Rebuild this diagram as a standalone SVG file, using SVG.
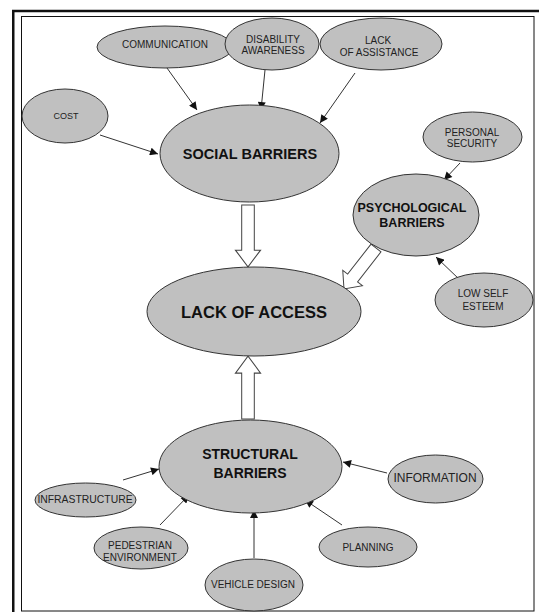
<svg xmlns="http://www.w3.org/2000/svg" width="539" height="612" viewBox="0 0 539 612">
  <style>
    .node ellipse { fill: #c0c0c0; stroke: #333; stroke-width: 1; }
    .t { font-family: "Liberation Sans", Arial, sans-serif; font-size: 10px; fill: #222; text-anchor: middle; dominant-baseline: central; }
    .b { font-weight: bold; fill: #111; }
    .conn line { stroke: #333; stroke-width: 1; marker-end: url(#ah); }
    .big { fill: #fff; stroke: #444; stroke-width: 1; stroke-linejoin: miter; }
  </style>
  <defs>
    <marker id="ah" viewBox="0 0 10 10" refX="10" refY="5" markerWidth="9" markerHeight="8" markerUnits="userSpaceOnUse" orient="auto">
      <path d="M0,0 L10,5 L0,10 z" fill="#111"/>
    </marker>
    <path id="bigarrow" d="M-6.3,0 L-6.3,38 L-12.5,38 L0,52 L12.5,38 L6.3,38 L6.3,0 z"/>
  </defs>
  <rect width="539" height="612" fill="#fff"/>
  <!-- frame -->
  <path d="M13.25,612 L13.25,11 L539,11" fill="none" stroke="#111" stroke-width="2.5"/>
  <rect x="21.5" y="16.5" width="512.5" height="594.5" fill="none" stroke="#111" stroke-width="1"/>

  <g id="connectors" class="conn">
    <line x1="100" y1="135" x2="158" y2="154"/>
    <line x1="167" y1="68" x2="197" y2="110"/>
    <line x1="265" y1="70" x2="261" y2="110"/>
    <line x1="355" y1="73" x2="320" y2="123"/>
    <line x1="460" y1="163" x2="444" y2="180"/>
    <line x1="460" y1="280" x2="436" y2="257"/>
    <line x1="123" y1="480" x2="159" y2="469"/>
    <line x1="160" y1="525" x2="189" y2="495"/>
    <line x1="254" y1="558" x2="254" y2="510"/>
    <line x1="342" y1="525" x2="305" y2="500"/>
    <line x1="387" y1="473" x2="343" y2="462"/>
    <use href="#bigarrow" class="big" transform="translate(248,205) rotate(0) scale(1,1.19)"/>
    <use href="#bigarrow" class="big" transform="translate(376,248) rotate(38)"/>
    <use href="#bigarrow" class="big" transform="translate(248,419) rotate(180) scale(1,1.21)"/>
  </g>

  <g id="communication" class="node">
    <ellipse cx="165" cy="47" rx="68" ry="21"/>
    <text class="t" x="165" y="44">COMMUNICATION</text>
  </g>
  <g id="disability-awareness" class="node">
    <ellipse cx="272" cy="44" rx="47" ry="26"/>
    <text class="t" x="273" y="39">DISABILITY</text>
    <text class="t" x="273" y="50">AWARENESS</text>
  </g>
  <g id="lack-of-assistance" class="node">
    <ellipse cx="381" cy="44" rx="61" ry="26"/>
    <text class="t" x="378" y="40">LACK</text>
    <text class="t" x="379" y="52">OF ASSISTANCE</text>
  </g>
  <g id="cost" class="node">
    <ellipse cx="65" cy="116" rx="43" ry="27"/>
    <text class="t" x="66" y="116" style="font-size:9px">COST</text>
  </g>
  <g id="social-barriers" class="node">
    <ellipse cx="249.5" cy="153.5" rx="89.5" ry="48.5"/>
    <text class="t b" x="250" y="154" style="font-size:14.5px">SOCIAL BARRIERS</text>
  </g>
  <g id="personal-security" class="node">
    <ellipse cx="472.5" cy="137" rx="49.5" ry="25"/>
    <text class="t" x="472" y="132">PERSONAL</text>
    <text class="t" x="472" y="143">SECURITY</text>
  </g>
  <g id="psychological-barriers" class="node">
    <ellipse cx="416" cy="215" rx="63" ry="41"/>
    <text class="t b" x="412" y="208" style="font-size:12.5px">PSYCHOLOGICAL</text>
    <text class="t b" x="412" y="223" style="font-size:12.5px">BARRIERS</text>
  </g>
  <g id="low-self-esteem" class="node">
    <ellipse cx="484" cy="300" rx="49" ry="27"/>
    <text class="t" x="483" y="293">LOW SELF</text>
    <text class="t" x="483" y="306">ESTEEM</text>
  </g>
  <g id="lack-of-access" class="node">
    <ellipse cx="254" cy="311.5" rx="107" ry="44.5"/>
    <text class="t b" x="254" y="312" style="font-size:16.5px">LACK OF ACCESS</text>
  </g>
  <g id="structural-barriers" class="node">
    <ellipse cx="250.5" cy="466.5" rx="91.5" ry="46.5"/>
    <text class="t b" x="250" y="454" style="font-size:14px">STRUCTURAL</text>
    <text class="t b" x="250" y="473" style="font-size:14px">BARRIERS</text>
  </g>
  <g id="infrastructure" class="node">
    <ellipse cx="85.5" cy="500" rx="50.5" ry="17"/>
    <text class="t" x="85" y="499" style="font-size:10.4px">INFRASTRUCTURE</text>
  </g>
  <g id="pedestrian-environment" class="node">
    <ellipse cx="141" cy="548" rx="47" ry="21"/>
    <text class="t" x="140" y="545">PEDESTRIAN</text>
    <text class="t" x="140" y="557">ENVIRONMENT</text>
  </g>
  <g id="vehicle-design" class="node">
    <ellipse cx="254" cy="585" rx="49" ry="26"/>
    <text class="t" x="253" y="584">VEHICLE DESIGN</text>
  </g>
  <g id="planning" class="node">
    <ellipse cx="368" cy="547" rx="49" ry="20"/>
    <text class="t" x="368" y="547">PLANNING</text>
  </g>
  <g id="information" class="node">
    <ellipse cx="435.5" cy="479" rx="47.5" ry="24"/>
    <text class="t" x="435" y="478" style="font-size:12px">INFORMATION</text>
  </g>
</svg>
